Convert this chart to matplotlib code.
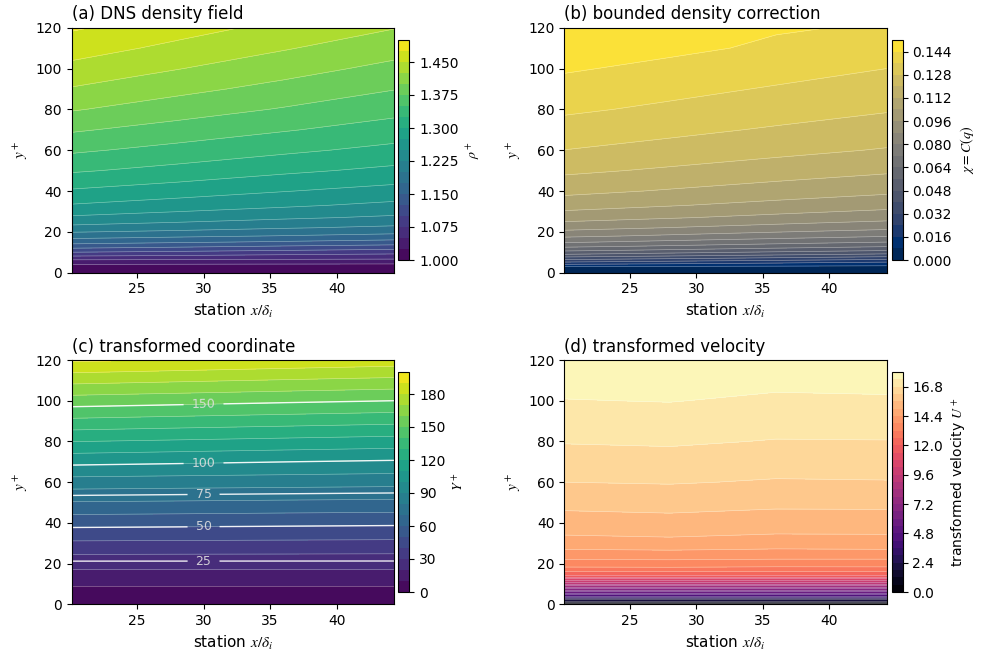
import numpy as np
import matplotlib
matplotlib.use("Agg")
import matplotlib.pyplot as plt

plt.rcParams['mathtext.fontset'] = 'stix'
plt.rcParams['font.family'] = ['DejaVu Sans']

# ---------------- data ----------------
stations = [20.1, 28.0, 36.0, 44.3]          # x / delta_i
y_plus = [0, 3, 5, 7, 9, 11, 13, 15, 18, 22, 27, 33, 40, 50, 60, 70, 80, 90, 100, 110, 120]

# rows follow y_plus, columns follow stations
rho_plus = [
    [1.005, 1.003, 1.002, 1.000],
    [1.018, 1.017, 1.017, 1.016],
    [1.031, 1.031, 1.030, 1.030],
    [1.060, 1.058, 1.056, 1.054],
    [1.086, 1.082, 1.077, 1.073],
    [1.113, 1.107, 1.101, 1.095],
    [1.137, 1.131, 1.124, 1.118],
    [1.160, 1.153, 1.147, 1.140],
    [1.186, 1.180, 1.174, 1.168],
    [1.217, 1.210, 1.202, 1.195],
    [1.246, 1.238, 1.229, 1.221],
    [1.273, 1.263, 1.254, 1.244],
    [1.297, 1.287, 1.276, 1.266],
    [1.328, 1.317, 1.305, 1.294],
    [1.354, 1.342, 1.330, 1.318],
    [1.378, 1.365, 1.352, 1.339],
    [1.402, 1.387, 1.373, 1.358],
    [1.423, 1.407, 1.392, 1.376],
    [1.443, 1.426, 1.410, 1.393],
    [1.461, 1.444, 1.427, 1.410],
    [1.478, 1.460, 1.443, 1.426],
]

chi_corr = [
    [0.0000, 0.0000, 0.0000, 0.0000],
    [0.0080, 0.0074, 0.0069, 0.0063],
    [0.0226, 0.0200, 0.0175, 0.0149],
    [0.0357, 0.0329, 0.0300, 0.0271],
    [0.0480, 0.0450, 0.0419, 0.0389],
    [0.0578, 0.0548, 0.0518, 0.0488],
    [0.0661, 0.0631, 0.0600, 0.0570],
    [0.0729, 0.0699, 0.0670, 0.0640],
    [0.0817, 0.0787, 0.0757, 0.0727],
    [0.0907, 0.0878, 0.0849, 0.0820],
    [0.0995, 0.0967, 0.0938, 0.0909],
    [0.1074, 0.1045, 0.1016, 0.0987],
    [0.1141, 0.1113, 0.1084, 0.1056],
    [0.1216, 0.1188, 0.1160, 0.1132],
    [0.1279, 0.1251, 0.1222, 0.1194],
    [0.1328, 0.1300, 0.1271, 0.1243],
    [0.1373, 0.1345, 0.1316, 0.1287],
    [0.1411, 0.1382, 0.1353, 0.1324],
    [0.1449, 0.1420, 0.1390, 0.1360],
    [0.1487, 0.1457, 0.1427, 0.1397],
    [0.1505, 0.1481, 0.1447, 0.1432],
]

Y_plus = [
    [0.0, 0.0, 0.0, 0.0],
    [3.3, 3.3, 3.3, 3.3],
    [5.5, 5.5, 5.5, 5.5],
    [7.7, 7.7, 7.7, 7.7],
    [10.0, 10.0, 10.0, 10.0],
    [12.4, 12.4, 12.4, 12.4],
    [14.8, 14.8, 14.8, 14.8],
    [17.3, 17.3, 17.3, 17.3],
    [21.0, 21.0, 21.0, 21.0],
    [26.0, 25.97, 25.93, 25.9],
    [34.0, 33.7, 33.5, 33.2],
    [42.7, 42.4, 42.1, 41.8],
    [53.5, 53.0, 52.4, 51.9],
    [69.4, 68.8, 68.1, 67.5],
    [85.5, 84.8, 84.2, 83.5],
    [102.8, 101.5, 100.1, 98.8],
    [120.2, 118.7, 117.2, 115.7],
    [137.6, 135.9, 134.3, 132.6],
    [155.2, 153.5, 151.7, 150.0],
    [173.2, 171.3, 169.4, 167.5],
    [191.5, 189.5, 187.5, 185.5],
]

U_plus = [
    [0.0, 0.0, 0.0, 0.0],
    [3.0, 3.0, 3.0, 3.0],
    [4.9, 4.9, 4.9, 4.9],
    [6.6, 6.6, 6.6, 6.6],
    [8.1, 8.1, 8.1, 8.1],
    [9.6, 9.6, 9.6, 9.6],
    [11.0, 11.0, 11.0, 11.0],
    [12.3, 12.3, 12.3, 12.3],
    [13.15, 13.17, 13.13, 13.14],
    [13.8, 13.82, 13.78, 13.78],
    [14.4, 14.45, 14.38, 14.4],
    [14.95, 15.0, 14.92, 14.93],
    [15.3, 15.38, 15.28, 15.29],
    [15.8, 15.84, 15.75, 15.76],
    [16.2, 16.24, 16.15, 16.17],
    [16.5, 16.56, 16.44, 16.46],
    [16.84, 16.88, 16.77, 16.78],
    [17.11, 17.15, 17.03, 17.06],
    [17.38, 17.42, 17.3, 17.33],
    [17.6, 17.64, 17.54, 17.56],
    [17.8, 17.84, 17.75, 17.77],
]

titles = ["(a) DNS density field", "(b) bounded density correction",
          "(c) transformed coordinate", "(d) transformed velocity"]
cbar_labels = [r"$\rho^+$", r"$\chi = C(q)$", r"$Y^+$", r"transformed velocity $U^+$"]
cmaps = ["viridis", "cividis", "viridis", "magma"]
Y_label_levels = [25, 50, 75, 100, 150]
Y_label_pos = [(30, 21), (30, 38), (30, 54), (30, 69), (30, 98)]

level_sets = [np.linspace(1.0, 1.5, 21), np.linspace(0.0, 0.152, 20),
              np.linspace(0.0, 200.0, 21), np.linspace(0.0, 18.0, 31)]
fields = [rho_plus, chi_corr, Y_plus, U_plus]

# ---------------- figure ----------------
fig = plt.figure(figsize=(9.92, 6.59), dpi=100)
W, H = 992.0, 659.0
ax_px = [(71.7, 27.7, 394.0, 272.7), (564.3, 27.7, 886.7, 272.7),
         (71.7, 360.0, 394.0, 604.3), (564.3, 360.0, 886.7, 604.3)]
cb_px = [(398.3, 40.0, 409.3, 260.0), (891.7, 40.0, 902.7, 260.0),
         (398.3, 372.0, 409.3, 592.0), (891.7, 372.0, 902.7, 592.0)]

X, Yg = np.meshgrid(np.array(stations), np.array(y_plus))

for i in range(4):
    l, t, r, b = ax_px[i]
    ax = fig.add_axes([l / W, 1 - b / H, (r - l) / W, (b - t) / H])
    cl, ct, cr, cbm = cb_px[i]
    cax = fig.add_axes([cl / W, 1 - cbm / H, (cr - cl) / W, (cbm - ct) / H])
    Z = np.array(fields[i])
    cf = ax.contourf(X, Yg, Z, levels=level_sets[i], cmap=cmaps[i])
    ax.contour(X, Yg, Z, levels=level_sets[i], colors='white', linewidths=0.45, alpha=0.45)
    if i == 2:
        cs = ax.contour(X, Yg, Z, levels=Y_label_levels, colors='white', linewidths=1.0, alpha=0.9)
        ax.clabel(cs, fmt='%d', fontsize=9, colors='#e0e0e0', inline=True,
                  inline_spacing=8, manual=Y_label_pos)
    ax.set_xlim(stations[0], stations[-1])
    ax.set_ylim(0, 120)
    ax.set_xticks([25, 30, 35, 40])
    ax.set_yticks([0, 20, 40, 60, 80, 100, 120])
    ax.tick_params(labelsize=10)
    ax.set_title(titles[i], loc='left', fontsize=12)
    ax.set_xlabel(r"station $x/\delta_i$", fontsize=11)
    ax.set_ylabel(r"$y^+$", fontsize=11)
    cb = fig.colorbar(cf, cax=cax)
    cb.ax.tick_params(labelsize=10)
    cb.set_label(cbar_labels[i], fontsize=10)

fig.savefig("out.png", dpi=100)
